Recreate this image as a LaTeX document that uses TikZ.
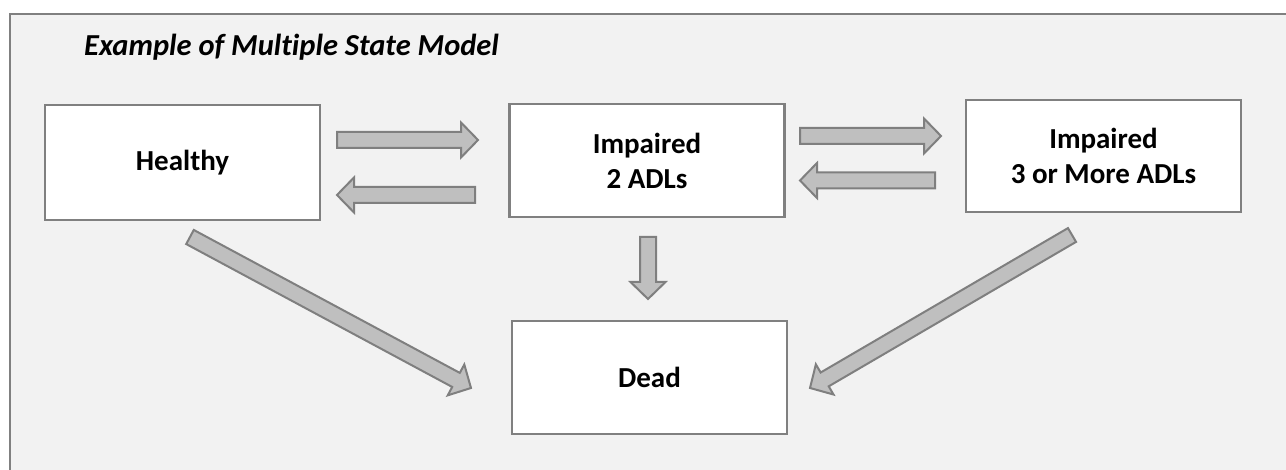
\documentclass[tikz,border=0pt]{standalone}
\usepackage{fontspec}
\setmainfont{Carlito}[Ligatures=NoCommon]
\usetikzlibrary{calc}
\definecolor{framebg}{HTML}{F2F2F2}
\definecolor{framebd}{HTML}{808080}
\definecolor{arrfill}{HTML}{BFBFBF}
\definecolor{arrbd}{HTML}{7F7F7F}
\tikzset{
  statebox/.style={draw=framebd, line width=2.5pt, fill=white, minimum width=275pt,
    minimum height=113pt, align=center, inner sep=0pt,
    font=\fontsize{29}{35}\selectfont\bfseries},
  barrow/.style={draw=arrbd, fill=arrfill, line width=2pt, line join=miter},
}
\newcommand\blockarrow[2]{%
  \draw[barrow] let \p1=($(#2)-(#1)$), \n1={atan2(\y1,\x1)}, \n2={veclen(\x1,\y1)} in
  [shift={(#1)}, rotate=\n1] (0,-8) -- ({\n2-17},-8) -- ({\n2-17},-17.5) -- (\n2,0)
  -- ({\n2-17},17.5) -- ({\n2-17},8) -- (0,8) -- cycle;}
\begin{document}
\begin{tikzpicture}[x=1pt,y=-1pt]
\useasboundingbox (0,0) rectangle (1286,470);
\fill[white] (0,0) rectangle (1286,470);
\draw[draw=framebd, fill=framebg, line width=2.5pt] (10,14) rectangle (1300,490);
\node[anchor=base west, inner sep=0pt, font=\fontsize{30.5}{35}\selectfont\bfseries\itshape] (title) at (84,56) {Example of Multiple State Model};
\node[statebox, minimum height=115pt] (healthy) at (182.5,162.5) {\raisebox{-3pt}{Healthy}};
\node[statebox] (imp2) at (647,160.5) {Impaired\\2 ADLs};
\node[statebox, minimum height=112pt] (imp3) at (1103.5,156) {Impaired\\3 or More ADLs};
\node[statebox] (dead) at (649.5,377.5) {Dead};
\coordinate (a1s) at (337,140); \coordinate (a1e) at (478,140);
\coordinate (a2s) at (475,195); \coordinate (a2e) at (337,195);
\coordinate (a3s) at (800,136); \coordinate (a3e) at (941,136);
\coordinate (a4s) at (935,180.5); \coordinate (a4e) at (800,180.5);
\coordinate (a5s) at (648,237); \coordinate (a5e) at (648,299);
\coordinate (a6s) at (190,237); \coordinate (a6e) at (471,388);
\coordinate (a7s) at (1072,235); \coordinate (a7e) at (810,388);
\blockarrow{a1s}{a1e}
\blockarrow{a2s}{a2e}
\blockarrow{a3s}{a3e}
\blockarrow{a4s}{a4e}
\blockarrow{a5s}{a5e}
\blockarrow{a6s}{a6e}
\blockarrow{a7s}{a7e}
\end{tikzpicture}
\end{document}
